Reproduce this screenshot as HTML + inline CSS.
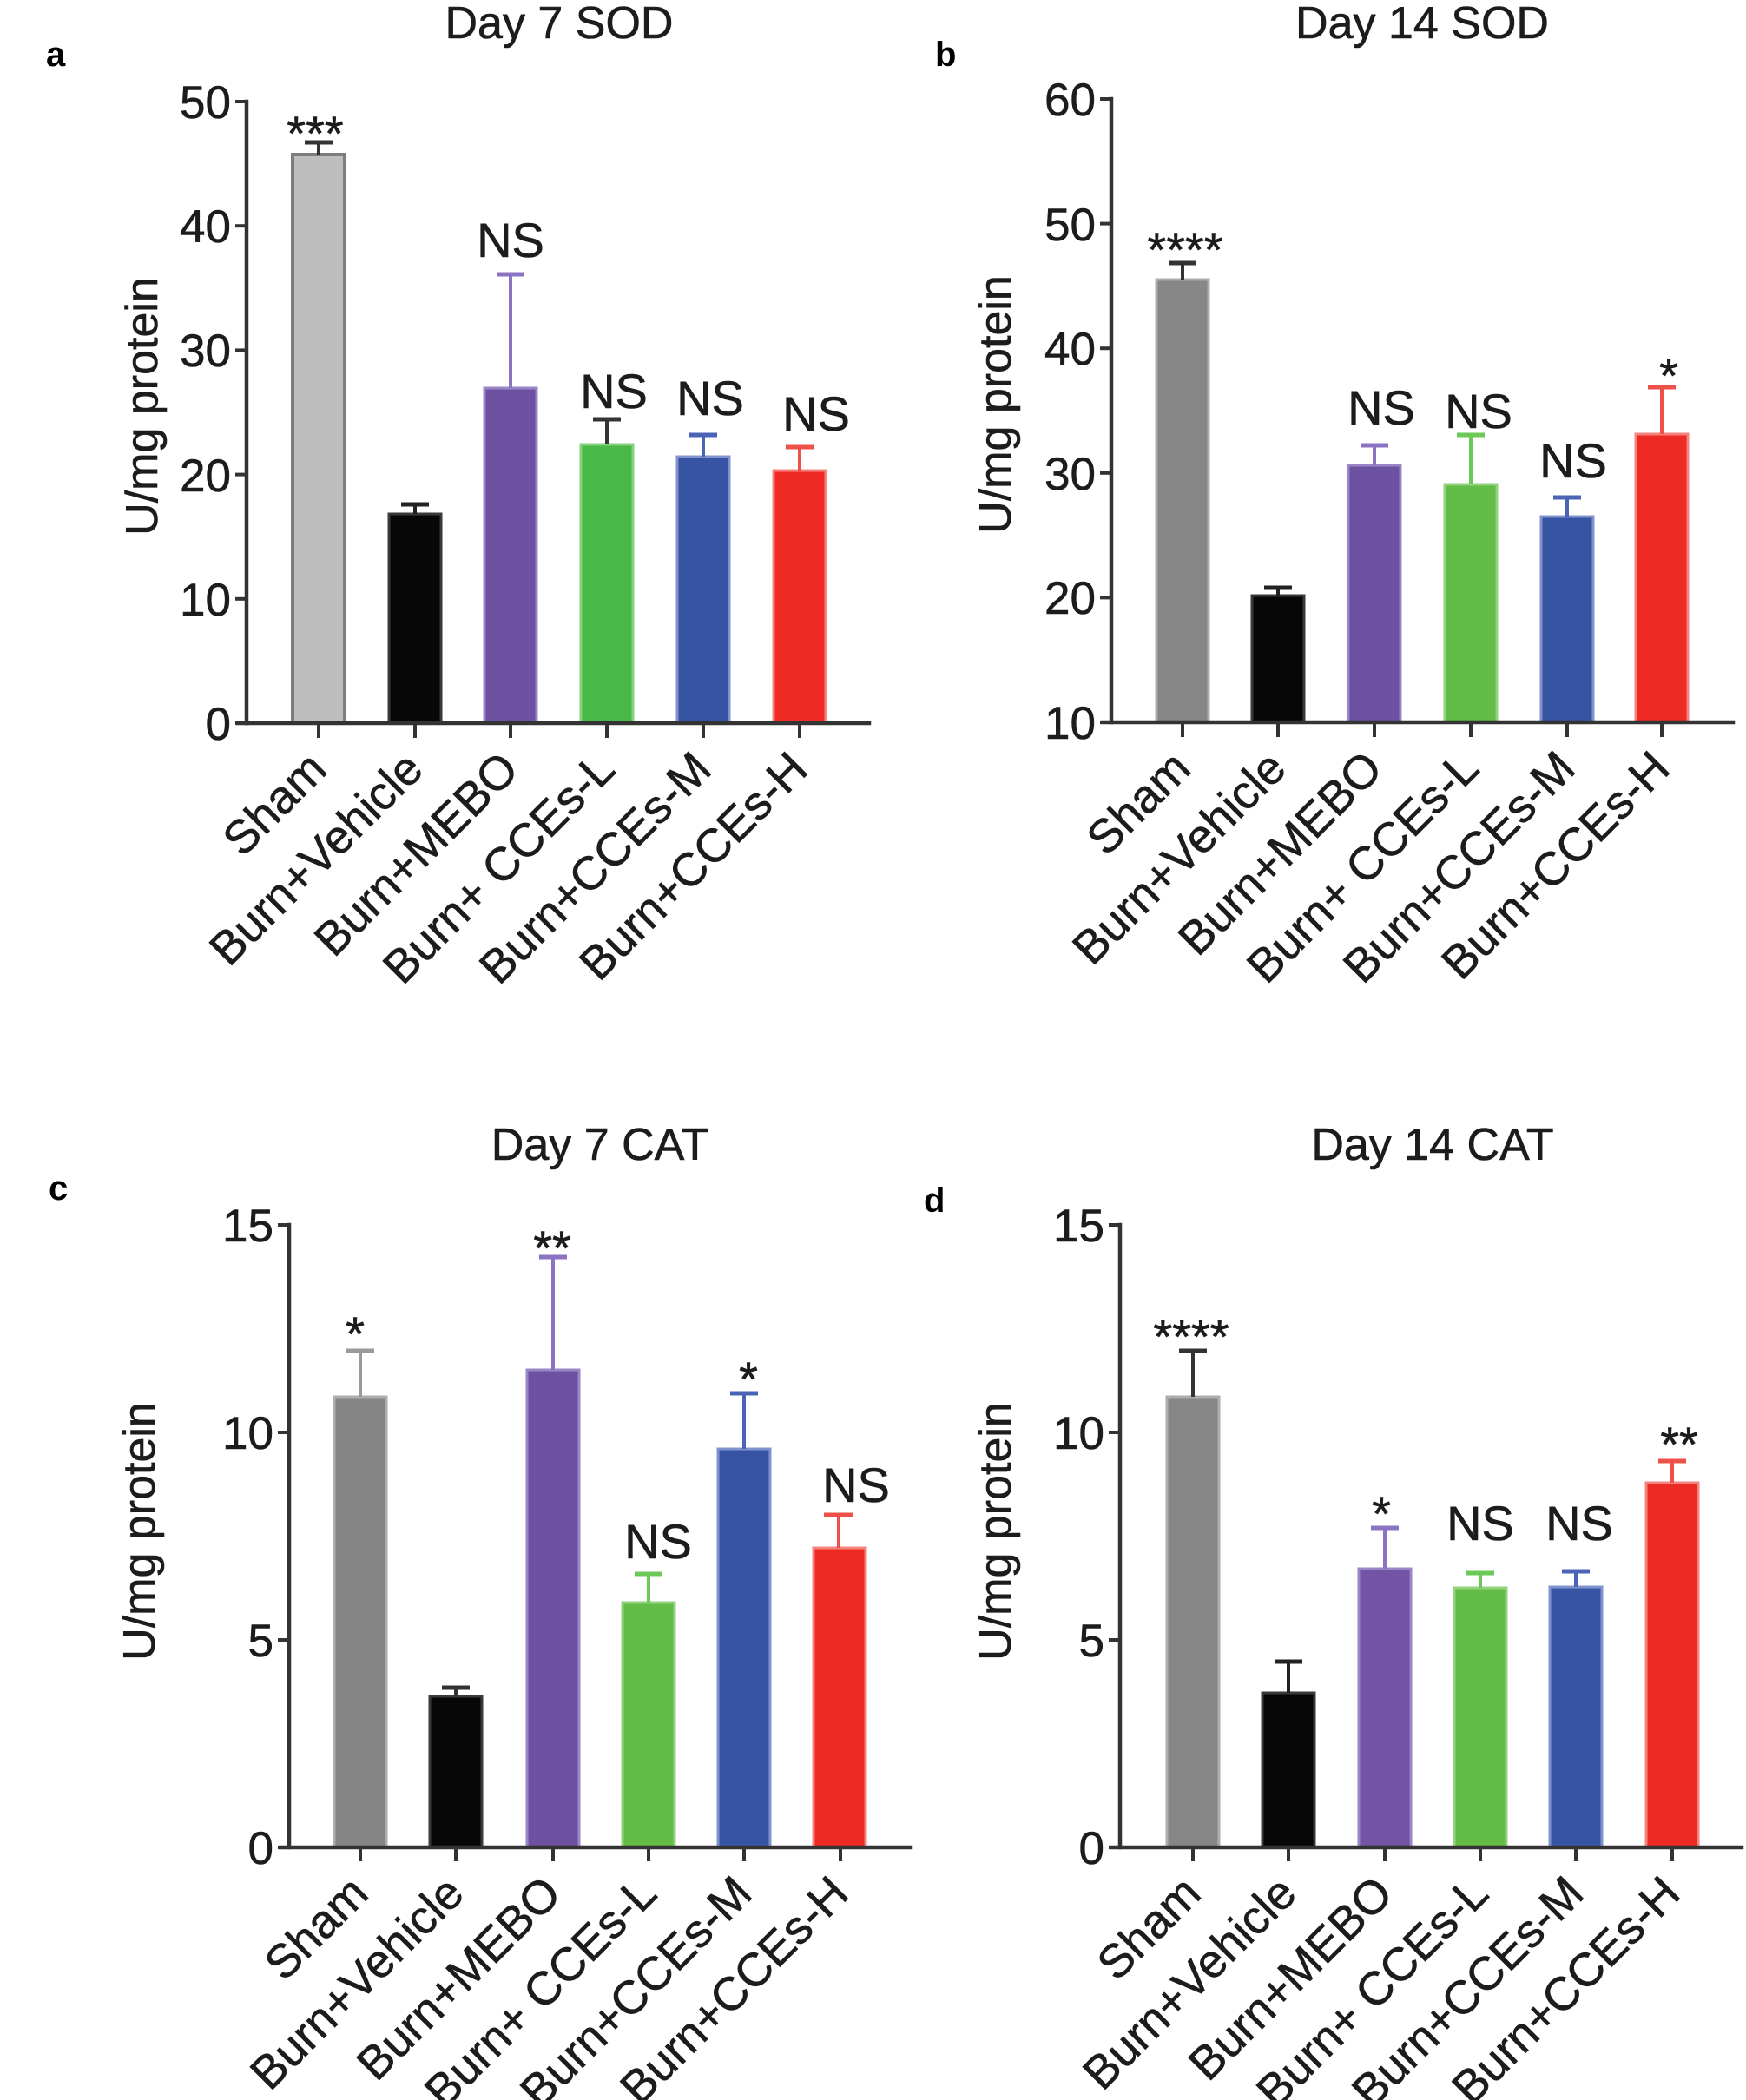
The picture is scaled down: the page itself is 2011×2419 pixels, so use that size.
<!DOCTYPE html>
<html>
<head>
<meta charset="utf-8">
<style>
html,body{margin:0;padding:0;background:#fff;}
svg{display:block;}
text{font-family:"Liberation Sans",Arial,sans-serif;fill:#1c1c1c;stroke:#1c1c1c;stroke-width:0.6;}
.tk{font-size:53px;text-anchor:end;}
.xl{font-size:54px;text-anchor:end;}
.yl{font-size:52px;text-anchor:middle;}
.ti{font-size:52px;text-anchor:middle;}
.an{font-size:56px;text-anchor:middle;}
.pl{font-size:40px;font-weight:bold;fill:#000;stroke:none;}
.ax{stroke:#333;stroke-width:4.5;fill:none;stroke-linecap:square;}
.tkl{stroke:#333;stroke-width:4;}
</style>
</head>
<body>
<svg width="2011" height="2419" viewBox="0 0 2011 2419" xmlns="http://www.w3.org/2000/svg">
<rect width="2011" height="2419" fill="#fff"/>

<!-- ================= PANEL A ================= -->
<text class="pl" x="53" y="76">a</text>
<text class="ti" x="644" y="44">Day 7 SOD</text>
<text class="yl" transform="translate(181,468) rotate(-90)">U/mg protein</text>

<rect x="337" y="178" width="60" height="655" fill="#bebebe" stroke="#7d7d7d" stroke-width="4"/>
<rect x="448" y="592" width="60" height="241" fill="#070707" stroke="#3a3a3a" stroke-width="3"/>
<rect x="558" y="447" width="60" height="386" fill="#6c51a1" stroke="#9a86c6" stroke-width="3"/>
<rect x="669" y="512" width="60" height="321" fill="#4ab848" stroke="#86d07e" stroke-width="3"/>
<rect x="780" y="526" width="60" height="307" fill="#3754a4" stroke="#8193cc" stroke-width="3"/>
<rect x="891" y="542" width="60" height="291" fill="#ed2a24" stroke="#f4847c" stroke-width="3"/>
<g stroke-width="4">
<line x1="367" y1="178" x2="367" y2="164" stroke="#333"/><line x1="351" y1="164" x2="383" y2="164" stroke="#333" stroke-width="5"/>
<line x1="478" y1="592" x2="478" y2="581" stroke="#222"/><line x1="462" y1="581" x2="494" y2="581" stroke="#222" stroke-width="5"/>
<line x1="588" y1="447" x2="588" y2="316" stroke="#8b73c2"/><line x1="572" y1="316" x2="604" y2="316" stroke="#8b73c2" stroke-width="5"/>
<line x1="699" y1="512" x2="699" y2="483" stroke="#333"/><line x1="683" y1="483" x2="715" y2="483" stroke="#333" stroke-width="5"/>
<line x1="810" y1="526" x2="810" y2="501" stroke="#4a63b5"/><line x1="794" y1="501" x2="826" y2="501" stroke="#4a63b5" stroke-width="5"/>
<line x1="921" y1="542" x2="921" y2="515" stroke="#f0504a"/><line x1="905" y1="515" x2="937" y2="515" stroke="#f0504a" stroke-width="5"/>
</g>
<line class="ax" x1="284" y1="117" x2="284" y2="833"/>
<line class="ax" x1="274" y1="833" x2="1001" y2="833"/>
<g class="tkl">
<line x1="271" y1="833" x2="284" y2="833"/><line x1="271" y1="689.8" x2="284" y2="689.8"/><line x1="271" y1="546.6" x2="284" y2="546.6"/>
<line x1="271" y1="403.4" x2="284" y2="403.4"/><line x1="271" y1="260.2" x2="284" y2="260.2"/><line x1="271" y1="117" x2="284" y2="117"/>
<line x1="367" y1="833" x2="367" y2="850"/><line x1="478" y1="833" x2="478" y2="850"/><line x1="588" y1="833" x2="588" y2="850"/>
<line x1="699" y1="833" x2="699" y2="850"/><line x1="810" y1="833" x2="810" y2="850"/><line x1="921" y1="833" x2="921" y2="850"/>
</g>
<text class="tk" x="266" y="852">0</text>
<text class="tk" x="266" y="709">10</text>
<text class="tk" x="266" y="566">20</text>
<text class="tk" x="266" y="422">30</text>
<text class="tk" x="266" y="279">40</text>
<text class="tk" x="266" y="136">50</text>
<text class="xl" transform="translate(379,889) rotate(-45)">Sham</text>
<text class="xl" transform="translate(490,889) rotate(-45)">Burn+Vehicle</text>
<text class="xl" transform="translate(600,889) rotate(-45)">Burn+MEBO</text>
<text class="xl" transform="translate(711,889) rotate(-45)">Burn+ CCEs-L</text>
<text class="xl" transform="translate(822,889) rotate(-45)">Burn+CCEs-M</text>
<text class="xl" transform="translate(933,889) rotate(-45)">Burn+CCEs-H</text>
<text class="an" x="363" y="173">***</text>
<text class="an" x="588" y="296">NS</text>
<text class="an" x="707" y="470">NS</text>
<text class="an" x="818" y="478">NS</text>
<text class="an" x="940" y="496">NS</text>

<!-- ================= PANEL B ================= -->
<text class="pl" x="1077" y="76">b</text>
<text class="ti" x="1638" y="44">Day 14 SOD</text>
<text class="yl" transform="translate(1164,466) rotate(-90)">U/mg protein</text>

<rect x="1332" y="322" width="60" height="510" fill="#878787" stroke="#adadad" stroke-width="3"/>
<rect x="1442" y="686" width="60" height="146" fill="#070707" stroke="#3a3a3a" stroke-width="3"/>
<rect x="1553" y="536" width="60" height="296" fill="#6c51a1" stroke="#9a86c6" stroke-width="3"/>
<rect x="1664" y="558" width="60" height="274" fill="#63bc45" stroke="#92d37e" stroke-width="3"/>
<rect x="1775" y="595" width="60" height="237" fill="#3754a4" stroke="#8193cc" stroke-width="3"/>
<rect x="1884" y="500" width="60" height="332" fill="#ed2a24" stroke="#f4847c" stroke-width="3"/>
<g stroke-width="4">
<line x1="1362" y1="322" x2="1362" y2="303" stroke="#333"/><line x1="1346" y1="303" x2="1378" y2="303" stroke="#333" stroke-width="5"/>
<line x1="1472" y1="686" x2="1472" y2="677" stroke="#222"/><line x1="1456" y1="677" x2="1488" y2="677" stroke="#222" stroke-width="5"/>
<line x1="1583" y1="536" x2="1583" y2="513" stroke="#8b73c2"/><line x1="1567" y1="513" x2="1599" y2="513" stroke="#8b73c2" stroke-width="5"/>
<line x1="1694" y1="558" x2="1694" y2="501" stroke="#6cc958"/><line x1="1678" y1="501" x2="1710" y2="501" stroke="#6cc958" stroke-width="5"/>
<line x1="1805" y1="595" x2="1805" y2="573" stroke="#4a63b5"/><line x1="1789" y1="573" x2="1821" y2="573" stroke="#4a63b5" stroke-width="5"/>
<line x1="1914" y1="500" x2="1914" y2="446" stroke="#f0504a"/><line x1="1898" y1="446" x2="1930" y2="446" stroke="#f0504a" stroke-width="5"/>
</g>
<line class="ax" x1="1280" y1="114" x2="1280" y2="832"/>
<line class="ax" x1="1270" y1="832" x2="1996" y2="832"/>
<g class="tkl">
<line x1="1267" y1="832" x2="1280" y2="832"/><line x1="1267" y1="688.4" x2="1280" y2="688.4"/><line x1="1267" y1="544.8" x2="1280" y2="544.8"/>
<line x1="1267" y1="401.2" x2="1280" y2="401.2"/><line x1="1267" y1="257.6" x2="1280" y2="257.6"/><line x1="1267" y1="114" x2="1280" y2="114"/>
<line x1="1362" y1="832" x2="1362" y2="849"/><line x1="1472" y1="832" x2="1472" y2="849"/><line x1="1583" y1="832" x2="1583" y2="849"/>
<line x1="1694" y1="832" x2="1694" y2="849"/><line x1="1805" y1="832" x2="1805" y2="849"/><line x1="1914" y1="832" x2="1914" y2="849"/>
</g>
<text class="tk" x="1262" y="851">10</text>
<text class="tk" x="1262" y="707">20</text>
<text class="tk" x="1262" y="564">30</text>
<text class="tk" x="1262" y="420">40</text>
<text class="tk" x="1262" y="277">50</text>
<text class="tk" x="1262" y="133">60</text>
<text class="xl" transform="translate(1374,888) rotate(-45)">Sham</text>
<text class="xl" transform="translate(1484,888) rotate(-45)">Burn+Vehicle</text>
<text class="xl" transform="translate(1595,888) rotate(-45)">Burn+MEBO</text>
<text class="xl" transform="translate(1706,888) rotate(-45)">Burn+ CCEs-L</text>
<text class="xl" transform="translate(1817,888) rotate(-45)">Burn+CCEs-M</text>
<text class="xl" transform="translate(1926,888) rotate(-45)">Burn+CCEs-H</text>
<text class="an" x="1365" y="307">****</text>
<text class="an" x="1591" y="489">NS</text>
<text class="an" x="1703" y="493">NS</text>
<text class="an" x="1812" y="550">NS</text>
<text class="an" x="1922" y="452">*</text>

<!-- ================= PANEL C ================= -->
<text class="pl" x="56" y="1382">c</text>
<text class="ti" x="691" y="1336">Day 7 CAT</text>
<text class="yl" transform="translate(178,1764) rotate(-90)">U/mg protein</text>

<rect x="385" y="1609" width="60" height="519" fill="#858585" stroke="#adadad" stroke-width="3"/>
<rect x="495" y="1954" width="60" height="174" fill="#070707" stroke="#3a3a3a" stroke-width="3"/>
<rect x="607" y="1578" width="60" height="550" fill="#6c51a1" stroke="#9a86c6" stroke-width="3"/>
<rect x="717" y="1846" width="60" height="282" fill="#63bc45" stroke="#92d37e" stroke-width="3"/>
<rect x="827" y="1669" width="60" height="459" fill="#3754a4" stroke="#8193cc" stroke-width="3"/>
<rect x="937" y="1783" width="60" height="345" fill="#ed2a24" stroke="#f4847c" stroke-width="3"/>
<g stroke-width="4">
<line x1="415" y1="1609" x2="415" y2="1556" stroke="#9a9a9a"/><line x1="399" y1="1556" x2="431" y2="1556" stroke="#9a9a9a" stroke-width="5"/>
<line x1="525" y1="1954" x2="525" y2="1944" stroke="#333"/><line x1="509" y1="1944" x2="541" y2="1944" stroke="#333" stroke-width="5"/>
<line x1="637" y1="1578" x2="637" y2="1448" stroke="#8b73c2"/><line x1="621" y1="1448" x2="653" y2="1448" stroke="#8b73c2" stroke-width="5"/>
<line x1="747" y1="1846" x2="747" y2="1813" stroke="#6cc958"/><line x1="731" y1="1813" x2="763" y2="1813" stroke="#6cc958" stroke-width="5"/>
<line x1="857" y1="1669" x2="857" y2="1605" stroke="#4a63b5"/><line x1="841" y1="1605" x2="873" y2="1605" stroke="#4a63b5" stroke-width="5"/>
<line x1="966" y1="1783" x2="966" y2="1745" stroke="#f0504a"/><line x1="949" y1="1745" x2="983" y2="1745" stroke="#f0504a" stroke-width="5"/>
</g>
<line class="ax" x1="333" y1="1411" x2="333" y2="2128"/>
<line class="ax" x1="323" y1="2128" x2="1048" y2="2128"/>
<g class="tkl">
<line x1="320" y1="2128" x2="333" y2="2128"/><line x1="320" y1="1889" x2="333" y2="1889"/>
<line x1="320" y1="1650" x2="333" y2="1650"/><line x1="320" y1="1411" x2="333" y2="1411"/>
<line x1="415" y1="2128" x2="415" y2="2144"/><line x1="525" y1="2128" x2="525" y2="2144"/><line x1="637" y1="2128" x2="637" y2="2144"/>
<line x1="747" y1="2128" x2="747" y2="2144"/><line x1="857" y1="2128" x2="857" y2="2144"/><line x1="968" y1="2128" x2="968" y2="2144"/>
</g>
<text class="tk" x="315" y="2147">0</text>
<text class="tk" x="315" y="1908">5</text>
<text class="tk" x="315" y="1669">10</text>
<text class="tk" x="315" y="1430">15</text>
<text class="xl" transform="translate(427,2184) rotate(-45)">Sham</text>
<text class="xl" transform="translate(537,2184) rotate(-45)">Burn+Vehicle</text>
<text class="xl" transform="translate(649,2184) rotate(-45)">Burn+MEBO</text>
<text class="xl" transform="translate(759,2184) rotate(-45)">Burn+ CCEs-L</text>
<text class="xl" transform="translate(869,2184) rotate(-45)">Burn+CCEs-M</text>
<text class="xl" transform="translate(980,2184) rotate(-45)">Burn+CCEs-H</text>
<text class="an" x="409" y="1556">*</text>
<text class="an" x="636" y="1457">**</text>
<text class="an" x="758" y="1795">NS</text>
<text class="an" x="862" y="1608">*</text>
<text class="an" x="986" y="1730">NS</text>

<!-- ================= PANEL D ================= -->
<text class="pl" x="1064" y="1396">d</text>
<text class="ti" x="1650" y="1336">Day 14 CAT</text>
<text class="yl" transform="translate(1164,1764) rotate(-90)">U/mg protein</text>

<rect x="1344" y="1609" width="60" height="519" fill="#878787" stroke="#adadad" stroke-width="3"/>
<rect x="1454" y="1950" width="60" height="178" fill="#070707" stroke="#3a3a3a" stroke-width="3"/>
<rect x="1565" y="1807" width="60" height="321" fill="#7353a3" stroke="#9a86c6" stroke-width="3"/>
<rect x="1675" y="1829" width="60" height="299" fill="#63bc45" stroke="#92d37e" stroke-width="3"/>
<rect x="1785" y="1828" width="60" height="300" fill="#3754a4" stroke="#8193cc" stroke-width="3"/>
<rect x="1896" y="1708" width="60" height="420" fill="#ed2a24" stroke="#f4847c" stroke-width="3"/>
<g stroke-width="4">
<line x1="1374" y1="1609" x2="1374" y2="1556" stroke="#333"/><line x1="1358" y1="1556" x2="1390" y2="1556" stroke="#333" stroke-width="5"/>
<line x1="1484" y1="1950" x2="1484" y2="1914" stroke="#222"/><line x1="1468" y1="1914" x2="1500" y2="1914" stroke="#222" stroke-width="5"/>
<line x1="1595" y1="1807" x2="1595" y2="1760" stroke="#8b73c2"/><line x1="1579" y1="1760" x2="1611" y2="1760" stroke="#8b73c2" stroke-width="5"/>
<line x1="1705" y1="1829" x2="1705" y2="1812" stroke="#6cc958"/><line x1="1689" y1="1812" x2="1721" y2="1812" stroke="#6cc958" stroke-width="5"/>
<line x1="1815" y1="1828" x2="1815" y2="1810" stroke="#4a63b5"/><line x1="1799" y1="1810" x2="1831" y2="1810" stroke="#4a63b5" stroke-width="5"/>
<line x1="1926" y1="1708" x2="1926" y2="1683" stroke="#f0504a"/><line x1="1910" y1="1683" x2="1942" y2="1683" stroke="#f0504a" stroke-width="5"/>
</g>
<line class="ax" x1="1290" y1="1411" x2="1290" y2="2128"/>
<line class="ax" x1="1280" y1="2128" x2="2006" y2="2128"/>
<g class="tkl">
<line x1="1277" y1="2128" x2="1290" y2="2128"/><line x1="1277" y1="1889" x2="1290" y2="1889"/>
<line x1="1277" y1="1650" x2="1290" y2="1650"/><line x1="1277" y1="1411" x2="1290" y2="1411"/>
<line x1="1374" y1="2128" x2="1374" y2="2144"/><line x1="1484" y1="2128" x2="1484" y2="2144"/><line x1="1595" y1="2128" x2="1595" y2="2144"/>
<line x1="1705" y1="2128" x2="1705" y2="2144"/><line x1="1815" y1="2128" x2="1815" y2="2144"/><line x1="1926" y1="2128" x2="1926" y2="2144"/>
</g>
<text class="tk" x="1272" y="2147">0</text>
<text class="tk" x="1272" y="1908">5</text>
<text class="tk" x="1272" y="1669">10</text>
<text class="tk" x="1272" y="1430">15</text>
<text class="xl" transform="translate(1386,2184) rotate(-45)">Sham</text>
<text class="xl" transform="translate(1496,2184) rotate(-45)">Burn+Vehicle</text>
<text class="xl" transform="translate(1607,2184) rotate(-45)">Burn+MEBO</text>
<text class="xl" transform="translate(1717,2184) rotate(-45)">Burn+ CCEs-L</text>
<text class="xl" transform="translate(1827,2184) rotate(-45)">Burn+CCEs-M</text>
<text class="xl" transform="translate(1938,2184) rotate(-45)">Burn+CCEs-H</text>
<text class="an" x="1372" y="1559">****</text>
<text class="an" x="1591" y="1763">*</text>
<text class="an" x="1705" y="1774">NS</text>
<text class="an" x="1819" y="1774">NS</text>
<text class="an" x="1934" y="1683">**</text>
</svg>
</body>
</html>
